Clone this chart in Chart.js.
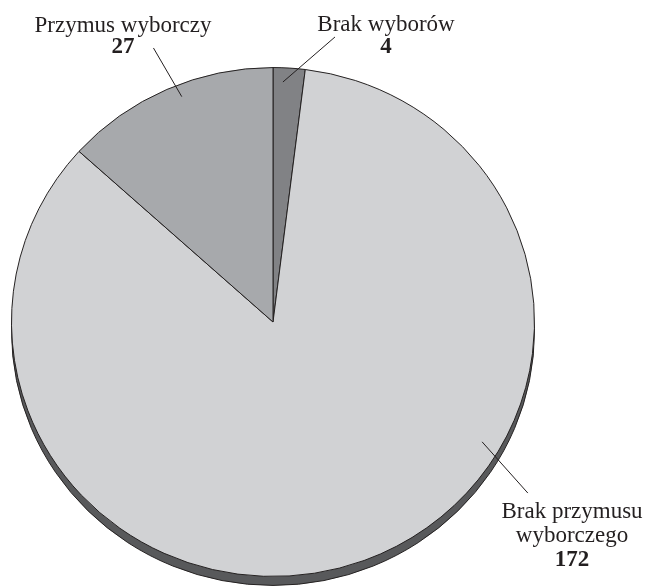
<!DOCTYPE html>
<html>
<head>
<meta charset="utf-8">
<script src="https://cdn.jsdelivr.net/npm/chart.js@4.4.1/dist/chart.umd.min.js"></script>
<style>
  html, body { margin:0; padding:0; background:#fff; overflow:hidden; }
  canvas { display:block; }
</style>
</head>
<body>
<canvas id="chart1" width="649" height="586"></canvas>
<script>
// ── DATA ──────────────────────────────────────────────────
const LABELS = ['Brak wyborów', ['Brak przymusu', 'wyborczego'], 'Przymus wyborczy'];
const VALUES = [4, 172, 27];
const COLORS = ['#818285', '#d1d2d4', '#a7a9ac'];

// ── LOOK ──────────────────────────────────────────────────
const INK   = '#231f20';
const SIDE  = '#58595b';
const SY    = 0.973;   // slight tilt of the disc
const DEPTH = 9;       // thickness of the disc edge
const FONT  = "'Liberation Serif','Times New Roman',serif";
const FSIZE = 23;

// label placement: text centre x, baselines, leader line (angle deg from top, radius fraction)
const LABEL_LAYOUT = [
  { x:386, ys:[31, 53],       from:{a:11.95, r:1.145}, to:{a:2.3,   r:0.944} },
  { x:572, ys:[518, 542, 566], from:{a:124.6, r:1.184}, to:{a:120.5, r:0.928} },
  { x:123, ys:[32, 53],       from:{a:-23,   r:1.17},  to:{a:-21.5, r:0.952} },
];

function polar(arc, p) {
  const a = p.a * Math.PI / 180;
  const R = arc.outerRadius * p.r;
  return { x: arc.x + R * Math.sin(a), y: arc.y - R * Math.cos(a) * SY };
}

const discPlugin = {
  id: 'disc',
  beforeDatasetsDraw(chart) {
    const arc = chart.getDatasetMeta(0).data[0];
    const ctx = chart.ctx;
    ctx.save();
    ctx.translate(arc.x, arc.y);
    ctx.scale(1, SY);
    ctx.translate(-arc.x, -arc.y);
    // edge of the disc
    ctx.beginPath();
    ctx.arc(arc.x, arc.y + DEPTH / SY, arc.outerRadius, 0, Math.PI * 2);
    ctx.fillStyle = SIDE;
    ctx.fill();
    ctx.lineWidth = 1;
    ctx.strokeStyle = INK;
    ctx.stroke();
  },
  afterDatasetsDraw(chart) {
    const ctx = chart.ctx;
    ctx.restore();
    const arcs = chart.getDatasetMeta(0).data;
    ctx.save();
    ctx.fillStyle = INK;
    ctx.strokeStyle = INK;
    ctx.lineWidth = 1;
    ctx.textAlign = 'center';
    ctx.textBaseline = 'alphabetic';
    LABEL_LAYOUT.forEach((lay, i) => {
      const arc = arcs[i];
      const p1 = polar(arc, lay.from), p2 = polar(arc, lay.to);
      ctx.beginPath();
      ctx.moveTo(p1.x, p1.y);
      ctx.lineTo(p2.x, p2.y);
      ctx.stroke();
      const lines = [].concat(LABELS[i]);
      ctx.font = `${FSIZE}px ${FONT}`;
      lines.forEach((t, k) => ctx.fillText(t, lay.x, lay.ys[k]));
      ctx.font = `bold ${FSIZE}px ${FONT}`;
      ctx.fillText(String(VALUES[i]), lay.x, lay.ys[lines.length]);
    });
    ctx.restore();
  }
};

const ctx = document.getElementById('chart1').getContext('2d');
new Chart(ctx, {
  type: 'pie',
  data: {
    labels: LABELS.map(l => [].concat(l).join(' ')),
    datasets: [{
      data: VALUES,
      backgroundColor: COLORS,
      borderColor: INK,
      borderWidth: 1,
    }]
  },
  options: {
    responsive: false,
    devicePixelRatio: 1,
    animation: false,
    layout: { padding: { left:11, right:114, top:60, bottom:2 } },
    plugins: { legend: { display:false }, tooltip: { enabled:false } }
  },
  plugins: [discPlugin]
});
</script>
</body>
</html>
